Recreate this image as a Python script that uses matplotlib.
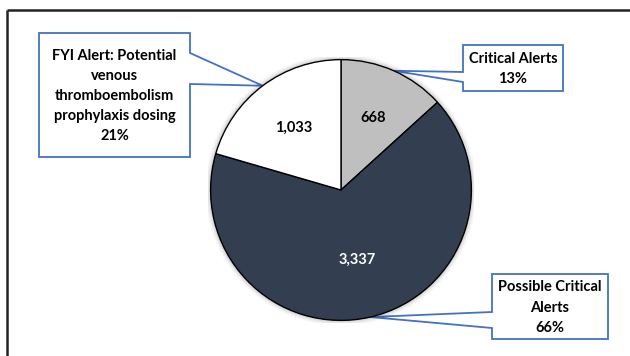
import matplotlib.pyplot as plt
from matplotlib.patches import Polygon
import numpy as np

plt.rcParams['font.family'] = ['Lato', 'DejaVu Sans']

# data
categories = ["Critical Alerts", "Possible Critical\nAlerts",
              "FYI Alert: Potential\nvenous\nthromboembolism\nprophylaxis dosing"]
values = [668, 3337, 1033]
colors = ["#BFBFBF", "#333F50", "#FFFFFF"]
value_colors = ["black", "white", "black"]

W, H = 630, 356
fig = plt.figure(figsize=(W / 100, H / 100), dpi=100)

# overlay axes in pixel coords (y down)
over = fig.add_axes([0, 0, 1, 1])
over.set_xlim(0, W)
over.set_ylim(H, 0)
over.axis("off")

# outer frame (top + left edges visible)
over.plot([6.5, W], [9.5, 9.5], color="#222222", lw=1.8, solid_capstyle="butt")
over.plot([6.5, 6.5], [9.5, H], color="#222222", lw=1.8, solid_capstyle="butt")

# pie axes
cx, cy, r = 341, 190, 133
ax = fig.add_axes([(cx - r) / W, (H - cy - r) / H, 2 * r / W, 2 * r / H])
wedges, texts = ax.pie(values, colors=colors, startangle=90, counterclock=False,
                       radius=1, wedgeprops=dict(edgecolor="black", linewidth=1.0))
ax.set_xlim(-1.02, 1.02)
ax.set_ylim(-1.02, 1.02)
ax.axis("off")

# soft shadow
for i, a in enumerate([0.06, 0.04, 0.02]):
    circ = plt.Circle((0, 0), 1 + 0.012 * (i + 1), color="black", alpha=a, zorder=0)
    ax.add_patch(circ)

# value labels
total = sum(values)
label_r = [0.6, 0.55, 0.6]
for w, v, tc, lr in zip(wedges, values, value_colors, label_r):
    mid = np.deg2rad((w.theta1 + w.theta2) / 2)
    ax.text(lr * np.cos(mid), lr * np.sin(mid), f"{v:,}", ha="center", va="center",
            color=tc, fontsize=10.5, fontweight="bold")

fig.canvas.draw()
to_over = over.transData.inverted()

# callout boxes: (x0, y0, x1, y1) in pixels, pointer base on box side
boxes = [(463, 45, 563, 91), (492, 274, 608, 339), (39, 33, 190, 157)]
bases = [(72, 82), (312, 328), (53, 84)]
blue = "#4472C4"
for w, v, cat, (x0, y0, x1, y1), (b0, b1) in zip(wedges, values, categories, boxes, bases):
    mid = np.deg2rad((w.theta1 + w.theta2) / 2)
    tip = to_over.transform(ax.transData.transform((np.cos(mid), np.sin(mid))))
    if tip[0] < x0:
        pts = [(x0, y0), (x1, y0), (x1, y1), (x0, y1), (x0, b1), tuple(tip), (x0, b0)]
    else:
        pts = [(x0, y0), (x1, y0), (x1, b0), tuple(tip), (x1, b1), (x1, y1), (x0, y1)]
    over.add_patch(Polygon(pts, closed=True, facecolor="white", edgecolor=blue,
                           lw=1.3, zorder=5))
    pct = round(100 * v / total)
    over.text((x0 + x1) / 2, (y0 + y1) / 2 + 1, f"{cat}\n{pct}%", ha="center", va="center",
              fontsize=10.5, fontweight="bold", linespacing=1.55, zorder=6)

fig.savefig("out.png", dpi=100)
